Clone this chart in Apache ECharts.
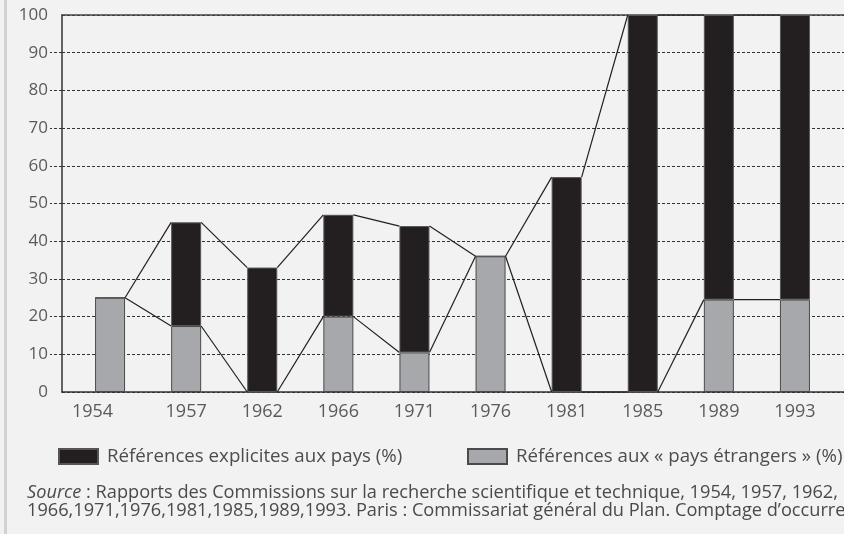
<!DOCTYPE html>
<html>
<head>
<meta charset="utf-8">
<script src="https://cdn.jsdelivr.net/npm/echarts@6/dist/echarts.min.js"></script>
<style>
html, body { margin: 0; padding: 0; background: #f2f2f2; }
#chart { width: 844px; height: 534px; }
</style>
</head>
<body>
<div id="chart"></div>
<script>
// données
var years = ['1954', '1957', '1962', '1966', '1971', '1976', '1981', '1985', '1989', '1993'];
var foreignPct = [25, 17.5, 0, 20, 10.5, 36, 0, 0, 24.5, 24.5];
var explicitPct = [0, 27.5, 33, 27, 33.5, 0, 57, 100, 75.5, 75.5];
var explicitName = 'Références explicites aux pays (%)';
var foreignName = 'Références aux « pays étrangers » (%)';
var sourceLines = [
  '{i|Source} : Rapports des Commissions sur la recherche scientifique et technique, 1954, 1957, 1962,',
  '1966,1971,1976,1981,1985,1989,1993. Paris : Commissariat général du Plan. Comptage d’occurrences.'
];

var barW = 30;
var fontFam = '"Open Sans", "Noto Sans", sans-serif';

// lignes de liaison entre barres (bord droit -> bord gauche suivant)
var linkData = [];
for (var i = 0; i < years.length - 1; i++) {
  linkData.push([
    i,
    foreignPct[i], foreignPct[i] + explicitPct[i],
    foreignPct[i + 1], foreignPct[i + 1] + explicitPct[i + 1]
  ]);
}

function renderLinks(params, api) {
  var i = api.value(0);
  var half = barW / 2;
  var a1 = api.coord([i, api.value(1)]);
  var b1 = api.coord([i + 1, api.value(3)]);
  var a2 = api.coord([i, api.value(2)]);
  var b2 = api.coord([i + 1, api.value(4)]);
  var st = { stroke: '#231f20', lineWidth: 1.2 };
  return {
    type: 'group',
    children: [
      { type: 'line', shape: { x1: a1[0] + half, y1: a1[1], x2: b1[0] - half, y2: b1[1] }, style: st },
      { type: 'line', shape: { x1: a2[0] + half, y1: a2[1], x2: b2[0] - half, y2: b2[1] }, style: st }
    ]
  };
}

var legendText = { color: '#4d4d4d', fontSize: 18.7, fontFamily: fontFam, padding: [0, 0, 0, 4] };

var chart = echarts.init(document.getElementById('chart'));
var option = {
  backgroundColor: '#f2f2f2',
  animation: false,
  textStyle: { fontFamily: fontFam },
  grid: [
    { left: 62, right: 0, top: 15, bottom: 142 },
    { left: 72, right: 11, top: 15, bottom: 142 },
    // seulement pour les petits tirets à gauche de l'axe (10 à 90)
    { left: 62, right: 0, top: 52.7, bottom: 179.7 }
  ],
  xAxis: [
    { type: 'value', gridIndex: 0, position: 'bottom', min: 0, max: 1,
      axisLine: { show: true, lineStyle: { color: '#333', width: 1.5 } },
      axisTick: { show: false }, axisLabel: { show: false }, splitLine: { show: false } },
    { type: 'value', gridIndex: 0, position: 'top', min: 0, max: 1,
      axisLine: { show: true, lineStyle: { color: '#444', width: 1.5 } },
      axisTick: { show: false }, axisLabel: { show: false }, splitLine: { show: false } },
    { type: 'category', gridIndex: 1, data: years,
      axisLine: { show: false }, axisTick: { show: false },
      axisLabel: {
        interval: 0,
        color: '#5a5a5a', fontSize: 18, margin: 11, fontFamily: fontFam,
        formatter: function (v, idx) { return idx === 0 ? '{first|' + v + '}' : v; },
        rich: { first: { color: '#5a5a5a', fontSize: 18, fontFamily: fontFam, padding: [0, 35, 0, 0] } }
      } },
    { type: 'value', gridIndex: 2, min: 0, max: 1, show: false }
  ],
  yAxis: [
    { type: 'value', gridIndex: 0, min: 0, max: 100, interval: 10,
      axisLine: { show: true, lineStyle: { color: '#333', width: 1.5 } },
      axisTick: { show: false },
      axisLabel: { color: '#5a5a5a', fontSize: 17, margin: 14, fontFamily: fontFam },
      splitLine: { show: true, lineStyle: { color: '#333', type: [3, 2], width: 1 } } },
    { type: 'value', gridIndex: 1, min: 0, max: 100, show: false },
    { type: 'value', gridIndex: 2, min: 10, max: 90, interval: 10,
      axisLine: { show: false }, axisLabel: { show: false }, splitLine: { show: false },
      axisTick: { show: true, length: 12, lineStyle: { color: '#333', type: [3, 2] } } }
  ],
  legend: [
    { data: [explicitName], left: 58, top: 447, padding: 0, icon: 'rect', itemWidth: 39, itemHeight: 15,
      textStyle: legendText },
    { data: [foreignName], left: 467, top: 447, padding: 0, icon: 'rect', itemWidth: 39, itemHeight: 15,
      textStyle: legendText }
  ],
  title: {
    left: 22, top: 479,
    text: sourceLines.join('\n'),
    textStyle: {
      color: '#4a4a4a', fontSize: 18.2, fontWeight: 'normal', lineHeight: 18, fontFamily: fontFam,
      rich: { i: { fontStyle: 'italic', color: '#4a4a4a', fontSize: 18.2, lineHeight: 18, fontFamily: fontFam } }
    }
  },
  graphic: [
    { type: 'rect', left: 4, top: 0, shape: { width: 3, height: 534 }, style: { fill: '#d2d2d2' } }
  ],
  series: [
    { name: foreignName, type: 'bar', stack: 'tot', xAxisIndex: 2, yAxisIndex: 1,
      barWidth: barW, data: foreignPct,
      itemStyle: { color: '#a7a8ab', borderColor: '#4a4a4a', borderWidth: 1 } },
    { name: explicitName, type: 'bar', stack: 'tot', xAxisIndex: 2, yAxisIndex: 1,
      barWidth: barW, data: explicitPct,
      itemStyle: { color: '#231f20', borderColor: '#555', borderWidth: 1 } },
    { type: 'custom', xAxisIndex: 2, yAxisIndex: 1, z: 5,
      renderItem: renderLinks, data: linkData,
      encode: { x: 0, y: [1, 2, 3, 4] } }
  ]
};
chart.setOption(option);
</script>
</body>
</html>
